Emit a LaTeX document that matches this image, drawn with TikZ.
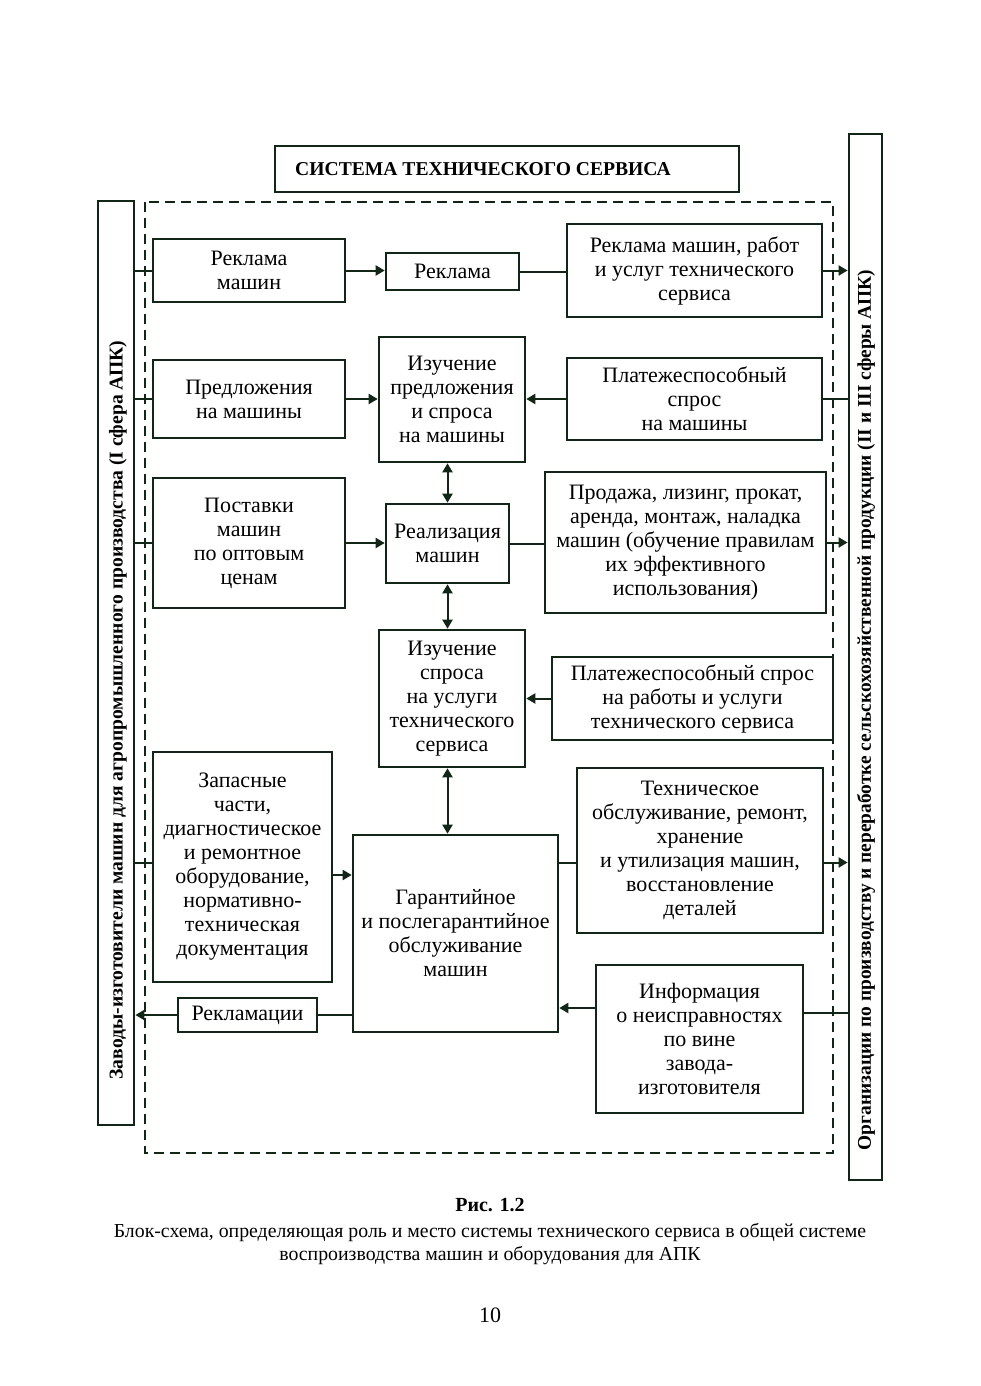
\documentclass[tikz,border=0pt]{standalone}
\usepackage{fontspec}
\setmainfont{Liberation Serif}
\usetikzlibrary{arrows.meta,calc}
\definecolor{ln}{RGB}{18,38,24}
\tikzset{
  box/.style={draw=ln, line width=1.3pt, align=center, inner sep=1pt,
    font=\fontsize{11}{12}\selectfont, text=black},
  bar/.style={draw=ln, line width=1.4pt},
  con/.style={draw=ln, line width=1pt},
  arr/.style={con, -{Triangle[length=4.5pt,width=5pt]}},
  arrr/.style={con, {Triangle[length=4.5pt,width=5pt]}-{Triangle[length=4.5pt,width=5pt]}},
  bartext/.style={rotate=90, font=\bfseries\fontsize{9.8}{12}\selectfont},
}
\begin{document}
\begin{tikzpicture}[x=0.5pt,y=-0.5pt]
\useasboundingbox (0,0) rectangle (980,1386);
% frame
\draw[ln, line width=1.2pt, dash pattern=on 5pt off 3pt] (145,202) rectangle (833,1153);
% title
\node[draw=ln, line width=1.3pt, minimum width=232pt, minimum height=23pt] (tt) at (507,169) {};
\node[font=\bfseries\fontsize{9.8}{12}\selectfont] (ttx) at (483,169) {СИСТЕМА ТЕХНИЧЕСКОГО СЕРВИСА};
% bars
\node[bar, minimum width=18pt, minimum height=462pt, inner sep=0pt] (lb) at (116,663) {};
\node[bartext] (lbt) at (118,710) {Заводы-изготовители машин для агропромышленного производства (I сфера АПК)};
\node[bar, minimum width=16.5pt, minimum height=523pt, inner sep=0pt] (rb) at (865.5,657) {};
\node[bartext, font=\bfseries\fontsize{9.7}{12}\selectfont] (rbt) at (866,710) {Организации по производству и переработке сельскохозяйственной продукции (II и III сферы АПК)};
% boxes
\node[box, minimum width=96pt, minimum height=31.5pt] (rm) at (249,270.5) {Реклама\\машин};
\node[box, minimum width=66.5pt, minimum height=18.5pt] (rk) at (452.5,271.5) {Реклама};
\node[box, minimum width=127.5pt, minimum height=46.5pt] (rmr) at (694.5,270.5) {Реклама машин, работ\\и услуг технического\\сервиса};
\node[box, minimum width=96pt, minimum height=39pt] (pr) at (249,399) {Предложения\\на машины};
\node[box, minimum width=73pt, minimum height=62.5pt] (ip) at (452,399.5) {Изучение\\предложения\\и спроса\\на машины};
\node[box, minimum width=127.5pt, minimum height=41pt] (ps1) at (694.5,399) {Платежеспособный\\спрос\\на машины};
\node[box, minimum width=96pt, minimum height=65pt] (pm) at (249,543) {Поставки\\машин\\по оптовым\\ценам};
\node[box, minimum width=61.5pt, minimum height=39.5pt] (rz) at (447.5,543.5) {Реализация\\машин};
\node[box, minimum width=140.5pt, minimum height=70.5pt] (pd) at (685.5,542.5) {Продажа, лизинг, прокат,\\аренда, монтаж, наладка\\машин (обучение правилам\\их эффективного\\использования)};
\node[box, minimum width=73pt, minimum height=68.5pt] (is) at (452,698.5) {Изучение\\спроса\\на услуги\\технического\\сервиса};
\node[box, minimum width=140.5pt, minimum height=41.5pt] (ps2) at (692.5,698.5) {Платежеспособный спрос\\на работы и услуги\\технического сервиса};
\node[box, minimum width=89.5pt, minimum height=115pt] (zc) at (242.5,867) {Запасные\\части,\\диагностическое\\и ремонтное\\оборудование,\\нормативно-\\техническая\\документация};
\node[box, minimum width=102.5pt, minimum height=98.5pt] (go) at (455.5,933.5) {Гарантийное\\и послегарантийное\\обслуживание\\машин};
\node[box, minimum width=123pt, minimum height=82.5pt] (to) at (700,850.5) {Техническое\\обслуживание, ремонт,\\хранение\\и утилизация машин,\\восстановление\\деталей};
\node[box, minimum width=69.5pt, minimum height=17pt] (rl) at (247.5,1015) {Рекламации};
\node[box, minimum width=103.5pt, minimum height=74pt] (inf) at (699.5,1039) {Информация\\о неисправностях\\по вине\\завода-\\изготовителя};
% row 1
\draw[con] (lb.east |- rm.west) -- (rm.west);
\draw[arr] (rm.east) -- (rm.east -| rk.west);
\draw[con] (rk.east) -- (rk.east -| rmr.west);
\draw[arr] (rmr.east) -- (rmr.east -| rb.west);
% row 2
\draw[con] (lb.east |- pr.west) -- (pr.west);
\draw[arr] (pr.east) -- (pr.east -| ip.west);
\draw[arr] (ps1.west) -- (ps1.west -| ip.east);
\draw[con] (ps1.east) -- (ps1.east -| rb.west);
% row 3
\draw[con] (lb.east |- pm.west) -- (pm.west);
\draw[arr] (pm.east) -- (pm.east -| rz.west);
\draw[con] (rz.east) -- (rz.east -| pd.west);
\draw[arr] (pd.east) -- (pd.east -| rb.west);
% row 4
\draw[arr] (ps2.west) -- (ps2.west -| is.east);
% row 5
\draw[con] ([yshift=2pt]zc.west -| lb.east) -- ([yshift=2pt]zc.west);
\draw[arr] ([yshift=-4pt]zc.east) -- ([yshift=-4pt]zc.east -| go.west);
\draw[con] ([yshift=-6pt]to.west -| go.east) -- ([yshift=-6pt]to.west);
\draw[arr] ([yshift=-6pt]to.east) -- ([yshift=-6pt]to.east -| rb.west);
% row 6
\draw[con] (rl.east) -- (rl.east -| go.west);
\draw[arr] (rl.west) -- (rl.west -| lb.east);
\draw[con] ([yshift=13pt]inf.east) -- ([yshift=13pt]inf.east -| rb.west);
\draw[arr] ([yshift=15.5pt]inf.west) -- ([yshift=15.5pt]inf.west -| go.east);
% vertical
\draw[arrr] (rz.north |- ip.south) -- (rz.north);
\draw[arrr] (rz.south) -- (rz.south |- is.north);
\draw[arrr] (is.south -| rz.south) -- (go.north -| rz.south);
% caption
\node[font=\bfseries\fontsize{10}{12}\selectfont] (cap1) at (490,1205) {Рис. 1.2};
\node[font=\fontsize{9.9}{11.2}\selectfont, align=center] (cap2) at (490,1244) {Блок-схема, определяющая роль и место системы технического сервиса в общей системе\\воспроизводства машин и оборудования для АПК};
\node[font=\fontsize{11}{12}\selectfont] (pg) at (490,1315) {10};
\end{tikzpicture}
\end{document}
